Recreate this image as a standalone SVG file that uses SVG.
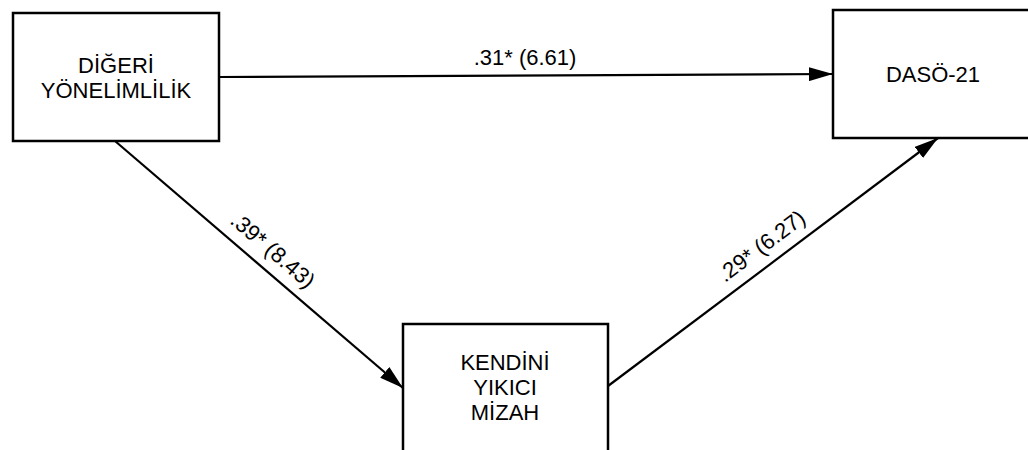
<svg xmlns="http://www.w3.org/2000/svg" width="1028" height="450" viewBox="0 0 1028 450">
<defs>
<marker id="ah" markerWidth="24" markerHeight="14" refX="24" refY="7" orient="auto" markerUnits="userSpaceOnUse">
<path d="M0,0 L24,7 L0,14 Z" fill="#000"/>
</marker>
<style>
.box{fill:#fff;stroke:#000;stroke-width:2.5}
.t{font-family:"Liberation Sans",Arial,sans-serif;font-size:22px;fill:#000;text-anchor:middle}
.c{stroke:#000;stroke-width:2.2;fill:none}
</style>
</defs>
<rect width="1028" height="450" fill="#fff"/>
<g id="connectors">
<line class="c" x1="219" y1="77" x2="833" y2="74" marker-end="url(#ah)"/>
<line class="c" x1="115" y1="141" x2="403" y2="388" marker-end="url(#ah)"/>
<line class="c" x1="608" y1="386" x2="938" y2="138" marker-end="url(#ah)"/>
<text class="t" x="525" y="65">.31* (6.61)</text>
<text class="t" transform="translate(268,256) rotate(40.6)">.39* (8.43)</text>
<text class="t" transform="translate(766,252) rotate(-37)">.29* (6.27)</text>
</g>
<g id="n1">
<rect class="box" x="13" y="13" width="206" height="128"/>
<text class="t" x="116" y="73">DİĞERİ</text>
<text class="t" x="116" y="98">YÖNELİMLİLİK</text>
</g>
<g id="n2">
<rect class="box" x="833" y="10" width="202" height="128"/>
<text class="t" x="933" y="82">DASÖ-21</text>
</g>
<g id="n3">
<rect class="box" x="403" y="324" width="205" height="140"/>
<text class="t" x="505" y="370">KENDİNİ</text>
<text class="t" x="505" y="395">YIKICI</text>
<text class="t" x="505" y="420">MİZAH</text>
</g>
</svg>
